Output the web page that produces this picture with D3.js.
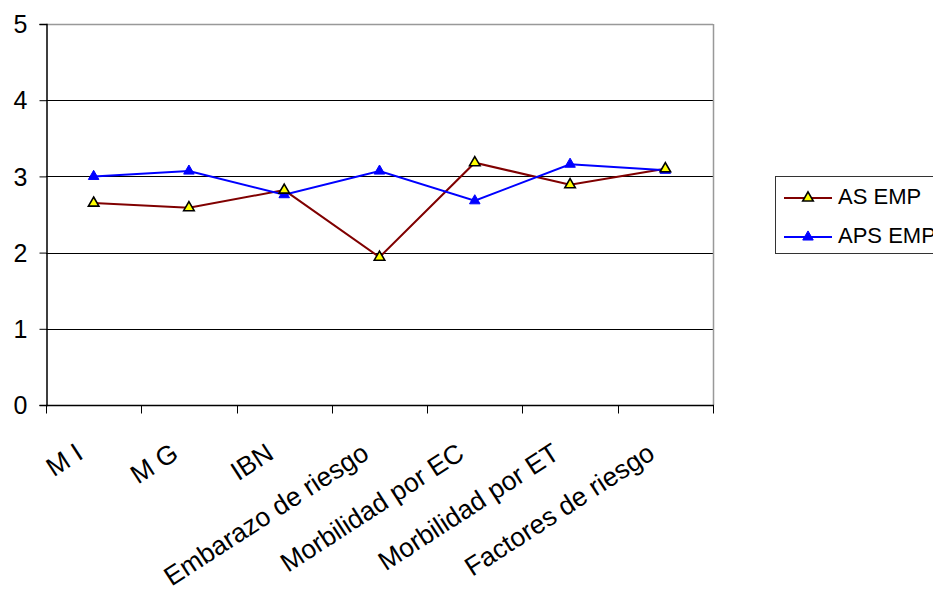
<!DOCTYPE html>
<html><head><meta charset="utf-8">
<script src="https://cdn.jsdelivr.net/npm/d3@7"></script>
<style>
body{margin:0;background:#fff;}
text{font-family:"Liberation Sans",Arial,sans-serif;fill:#000;}
</style></head>
<body><svg id="c" width="933" height="592"></svg>
<script>
const categories = ["M I","M G","IBN","Embarazo de riesgo","Morbilidad por EC","Morbilidad por ET","Factores de riesgo"];
const asEmp  = [2.65, 2.59, 2.82, 1.94, 3.18, 2.89, 3.10];
const apsEmp = [3.00, 3.07, 2.76, 3.07, 2.68, 3.16, 3.08];
const seriesNames = ["AS EMP","APS EMP"];
const yTicks = [0,1,2,3,4,5];

const svg = d3.select("#c");
const L=46, R=713, T=24, B=405;
const x = d3.scaleBand().domain(categories).range([L,R]).paddingInner(0).paddingOuter(0);
const y = d3.scaleLinear().domain([0,5]).range([B,T]);

// gridlines
svg.append("g").selectAll("line").data(yTicks.filter(d=>d>0 && d<5)).join("line")
  .attr("x1",L).attr("x2",R).attr("y1",d=>Math.round(y(d))+0.5).attr("y2",d=>Math.round(y(d))+0.5)
  .attr("stroke","#000").attr("stroke-width",1);
// top & right border (gray)
svg.append("line").attr("x1",L).attr("x2",R).attr("y1",T+0.5).attr("y2",T+0.5).attr("stroke","#999").attr("stroke-width",1.5);
svg.append("line").attr("x1",R+0.5).attr("x2",R+0.5).attr("y1",T).attr("y2",B).attr("stroke","#999").attr("stroke-width",1.5);

// y axis
const yAxis = d3.axisLeft(y).tickValues(yTicks).tickSize(7).tickPadding(12).tickFormat(d3.format("d"));
const gy = svg.append("g").attr("transform",`translate(${L+0.5},0)`).call(yAxis);
gy.select(".domain").attr("stroke","#000").attr("stroke-width",1.5);
gy.selectAll(".tick line").attr("stroke","#000");
gy.selectAll(".tick text").attr("font-size",25).attr("font-family","Liberation Sans, Arial, sans-serif").attr("fill","#000").attr("dy","0.35em");

// x axis: ticks at category boundaries
const gx = svg.append("g").attr("transform",`translate(0,${B+0.5})`);
gx.append("line").attr("x1",L).attr("x2",R+1).attr("stroke","#000").attr("stroke-width",1.5);
const bounds = categories.map(c=>x(c)).concat([x(categories[categories.length-1])+x.bandwidth()]);
gx.selectAll(".bt").data(bounds).join("line").attr("class","bt")
  .attr("x1",d=>Math.round(d)+0.5).attr("x2",d=>Math.round(d)+0.5).attr("y1",0).attr("y2",8).attr("stroke","#000");
gx.selectAll(".lab").data(categories).join("text").attr("class","lab")
  .attr("transform",d=>`translate(${x(d)+x.bandwidth()/2-9},${52}) rotate(-33)`)
  .attr("text-anchor","end").attr("font-size",26.5).text(d=>d);

// lines
const cx = d=>x(d)+x.bandwidth()/2;
const line = d3.line().x((d,i)=>cx(categories[i])).y(d=>y(d));
svg.append("path").datum(asEmp).attr("d",line).attr("fill","none").attr("stroke","#800000").attr("stroke-width",2);
svg.append("path").datum(apsEmp).attr("d",line).attr("fill","none").attr("stroke","#0000ff").attr("stroke-width",2);

const tri = d3.symbol().type(d3.symbolTriangle).size(48);
svg.append("g").selectAll("path").data(apsEmp).join("path")
  .attr("transform",(d,i)=>`translate(${cx(categories[i])},${y(d)})`).attr("d",tri)
  .attr("fill","#0000ff").attr("stroke","#0000ff").attr("stroke-width",1);
svg.append("g").selectAll("path").data(asEmp).join("path")
  .attr("transform",(d,i)=>`translate(${cx(categories[i])},${y(d)})`).attr("d",tri)
  .attr("fill","#ffff00").attr("stroke","#000").attr("stroke-width",1.6);

// legend
const lg = svg.append("g");
lg.append("rect").attr("x",775.5).attr("y",176.5).attr("width",170).attr("height",77).attr("fill","#fff").attr("stroke","#333").attr("stroke-width",1);
const rows = [{name:seriesNames[0],stroke:"#800000",fill:"#ffff00",ms:"#000",yy:198},{name:seriesNames[1],stroke:"#0000ff",fill:"#0000ff",ms:"#0000ff",yy:237}];
rows.forEach(r=>{
  lg.append("line").attr("x1",784).attr("x2",832).attr("y1",r.yy).attr("y2",r.yy).attr("stroke",r.stroke).attr("stroke-width",2);
  lg.append("path").attr("d",tri).attr("transform",`translate(808,${r.yy})`).attr("fill",r.fill).attr("stroke",r.ms).attr("stroke-width",r.fill==="#ffff00"?1.6:1);
  lg.append("text").attr("x",838).attr("y",r.yy+6).attr("font-size",22).text(r.name);
});
</script></body></html>
